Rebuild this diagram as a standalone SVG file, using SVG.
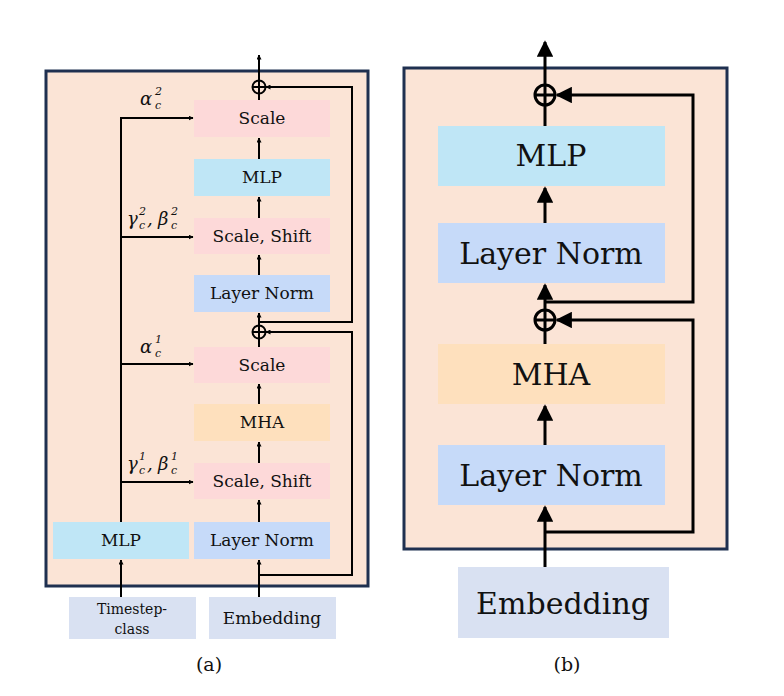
<svg xmlns="http://www.w3.org/2000/svg" width="784" height="696" viewBox="0 0 784 696">
<style>
.frame{fill:#fbe4d6;stroke:#1f3050;stroke-width:3}
.sc{fill:#fdd9d9}.ml{fill:#bfe6f6}.ln{fill:#c6daf9}.mh{fill:#fee0bd}.em{fill:#d9e1f2}
text{font-family:'DejaVu Serif','Liberation Serif','Times New Roman',serif;fill:#111}
.t{text-anchor:middle}
.s{font-size:17px}.b{font-size:30px}
.g{font-style:italic;font-size:18px}
.u{font-style:italic;font-size:11px}
.w{fill:none;stroke:#000;stroke-width:2}
.W{fill:none;stroke:#000;stroke-width:3}
</style>
<defs>
<marker id="a" viewBox="0 0 10 10" refX="9" refY="5" markerWidth="5" markerHeight="5" orient="auto" markerUnits="userSpaceOnUse"><path d="M0,0L10,5L0,10z" fill="#000"/></marker>
<marker id="a2" viewBox="0 0 10 10" refX="9" refY="5" markerWidth="5.5" markerHeight="5.5" orient="auto"><path d="M0,0L10,5L0,10z" fill="#000"/></marker>
</defs>
<rect class="frame" x="46" y="71" width="322" height="515"/>
<rect class="frame" x="404" y="68" width="323" height="481"/>
<g id="a-scale2"><rect class="sc" x="194" y="100" width="136" height="37"/><text class="t s" x="262" y="124">Scale</text></g>
<g id="a-mlp2"><rect class="ml" x="194" y="159" width="136" height="37"/><text class="t s" x="262" y="183">MLP</text></g>
<g id="a-ss2"><rect class="sc" x="194" y="218" width="136" height="36"/><text class="t s" x="262" y="242">Scale, Shift</text></g>
<g id="a-ln2"><rect class="ln" x="194" y="275" width="136" height="37"/><text class="t s" x="262" y="299">Layer Norm</text></g>
<g id="a-scale1"><rect class="sc" x="194" y="347" width="136" height="36"/><text class="t s" x="262" y="371">Scale</text></g>
<g id="a-mha"><rect class="mh" x="194" y="404" width="136" height="37"/><text class="t s" x="262" y="428">MHA</text></g>
<g id="a-ss1"><rect class="sc" x="194" y="463" width="136" height="36"/><text class="t s" x="262" y="487">Scale, Shift</text></g>
<g id="a-ln1"><rect class="ln" x="194" y="522" width="136" height="37"/><text class="t s" x="262" y="546">Layer Norm</text></g>
<g id="a-mlp"><rect class="ml" x="53" y="522" width="136" height="37"/><text class="t s" x="121" y="546">MLP</text></g>
<g id="a-ts"><rect class="em" x="69" y="597" width="127" height="42"/><text class="t" style="font-size:14px" x="132" y="614">Timestep-</text><text class="t" style="font-size:14px" x="132" y="634">class</text></g>
<g id="a-emb"><rect class="em" x="209" y="597" width="127" height="42"/><text class="t s" x="272" y="624">Embedding</text></g>
<g id="a-labels">
<text class="g" x="140" y="105">α</text><text class="u" x="155" y="109">c</text><text class="u" x="155" y="95">2</text>
<text class="g" x="127" y="225">γ</text><text class="u" x="139" y="229">c</text><text class="u" x="139" y="215">2</text>
<text class="g" x="147" y="225">,</text>
<text class="g" x="158" y="225">β</text><text class="u" x="171" y="229">c</text><text class="u" x="171" y="215">2</text>
<text class="g" x="140" y="353">α</text><text class="u" x="155" y="357">c</text><text class="u" x="155" y="343">1</text>
<text class="g" x="127" y="470">γ</text><text class="u" x="139" y="474">c</text><text class="u" x="139" y="460">1</text>
<text class="g" x="147" y="470">,</text>
<text class="g" x="158" y="470">β</text><text class="u" x="171" y="474">c</text><text class="u" x="171" y="460">1</text>
</g>
<g id="b-mlp"><rect class="ml" x="438" y="126" width="227" height="60"/><text class="t b" x="551" y="166">MLP</text></g>
<g id="b-ln2"><rect class="ln" x="438" y="223" width="227" height="60"/><text class="t b" x="551" y="264">Layer Norm</text></g>
<g id="b-mha"><rect class="mh" x="438" y="344" width="227" height="60"/><text class="t b" x="551" y="385">MHA</text></g>
<g id="b-ln1"><rect class="ln" x="438" y="445" width="227" height="60"/><text class="t b" x="551" y="486">Layer Norm</text></g>
<g id="b-emb"><rect class="em" x="458" y="567" width="211" height="71"/><text class="t b" x="563" y="614">Embedding</text></g>
<text class="t" style="font-size:19px" x="209" y="671">(a)</text>
<text class="t" style="font-size:19px" x="567" y="671">(b)</text>
<g id="connectors">
<circle class="w" cx="259" cy="87" r="6.5"/><path class="w" d="M252.5,87H265.5M259,80.5V93.5"/>
<circle class="w" cx="259" cy="332" r="6.5"/><path class="w" d="M252.5,332H265.5M259,325.5V338.5"/>
<path class="w" d="M259,80.5V55" marker-end="url(#a)"/>
<path class="w" d="M259,100V93.5"/>
<path class="w" d="M259,159V138" marker-end="url(#a)"/>
<path class="w" d="M259,218V197" marker-end="url(#a)"/>
<path class="w" d="M259,275V255" marker-end="url(#a)"/>
<path class="w" d="M259,325.5V313" marker-end="url(#a)"/>
<path class="w" d="M259,347V338.5"/>
<path class="w" d="M259,404V384" marker-end="url(#a)"/>
<path class="w" d="M259,463V442" marker-end="url(#a)"/>
<path class="w" d="M259,522V500" marker-end="url(#a)"/>
<path class="w" d="M259,597V560" marker-end="url(#a)"/>
<path class="w" d="M259,322H352V87H266" marker-end="url(#a)"/>
<path class="w" d="M259,575H352V332H266" marker-end="url(#a)"/>
<path class="w" d="M121,522V118H193" marker-end="url(#a)"/>
<path class="w" d="M121,237H193" marker-end="url(#a)"/>
<path class="w" d="M121,364H193" marker-end="url(#a)"/>
<path class="w" d="M121,482H193" marker-end="url(#a)"/>
<path class="w" d="M121,597V560" marker-end="url(#a)"/>
<circle class="W" cx="545" cy="95" r="10"/><path class="W" d="M535,95H555M545,85V105"/>
<circle class="W" cx="545" cy="320" r="10"/><path class="W" d="M535,320H555M545,310V330"/>
<path class="W" d="M545,85V42" marker-end="url(#a2)"/>
<path class="W" d="M545,126V105"/>
<path class="W" d="M545,223V188" marker-end="url(#a2)"/>
<path class="W" d="M545,310V285" marker-end="url(#a2)"/>
<path class="W" d="M545,344V330"/>
<path class="W" d="M545,445V406" marker-end="url(#a2)"/>
<path class="W" d="M545,567V507" marker-end="url(#a2)"/>
<path class="W" d="M545,302H693V95H557" marker-end="url(#a2)"/>
<path class="W" d="M545,532H693V320H557" marker-end="url(#a2)"/>
</g>
</svg>
